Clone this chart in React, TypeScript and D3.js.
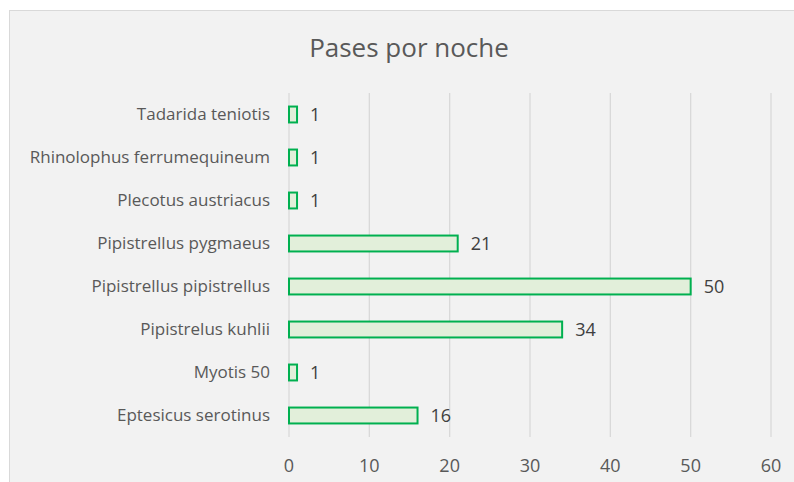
import React from "react";
import * as d3 from "d3";

const categories = [
  "Tadarida teniotis",
  "Rhinolophus ferrumequineum",
  "Plecotus austriacus",
  "Pipistrellus pygmaeus",
  "Pipistrellus pipistrellus",
  "Pipistrelus kuhlii",
  "Myotis 50",
  "Eptesicus serotinus",
];
const values = [1, 1, 1, 21, 50, 34, 1, 16];
const xTicks = [0, 10, 20, 30, 40, 50, 60];
const title = "Pases por noche";

const W = 794;
const H = 482;
const FONT = "'Open Sans', 'Noto Sans', sans-serif";

export default function App() {
  const x = d3.scaleLinear().domain([0, 60]).range([289, 771]);
  const y = d3
    .scaleBand<string>()
    .domain(categories)
    .range([93, 437])
    .paddingInner(0.63)
    .paddingOuter(0.315);
  const bh = y.bandwidth();
  return (
    <svg
      width={W}
      height={H}
      style={{ position: "absolute", left: 0, top: 0 }}
      fontFamily={FONT}
    >
      <rect x={0} y={0} width={W} height={H} fill="#ffffff" />
      <rect x={9.5} y={10.5} width={W} height={H} fill="#f2f2f2" stroke="#d9d9d9" />
      <text x={409} y={57} textAnchor="middle" fontSize={26} fill="#595959">
        {title}
      </text>
      {xTicks.map((t) => (
        <g key={t}>
          <line x1={x(t)} x2={x(t)} y1={93} y2={437} stroke="#d9d9d9" strokeWidth={1.3} />
          <text x={x(t)} y={472} textAnchor="middle" fontSize={18} fill="#595959">
            {t}
          </text>
        </g>
      ))}
      {categories.map((c, i) => {
        const yc = (y(c) ?? 0) + bh / 2;
        return (
          <g key={c}>
            <rect
              x={x(0)}
              y={y(c)}
              width={x(values[i]) - x(0)}
              height={bh}
              fill="#e2efda"
              stroke="#00b050"
              strokeWidth={2}
            />
            <text x={270} y={yc} dy="0.35em" textAnchor="end" fontSize={17} fill="#595959">
              {c}
            </text>
            <text x={x(values[i]) + 13} y={yc} dy="0.35em" fontSize={18} fill="#404040">
              {values[i]}
            </text>
          </g>
        );
      })}
    </svg>
  );
}
